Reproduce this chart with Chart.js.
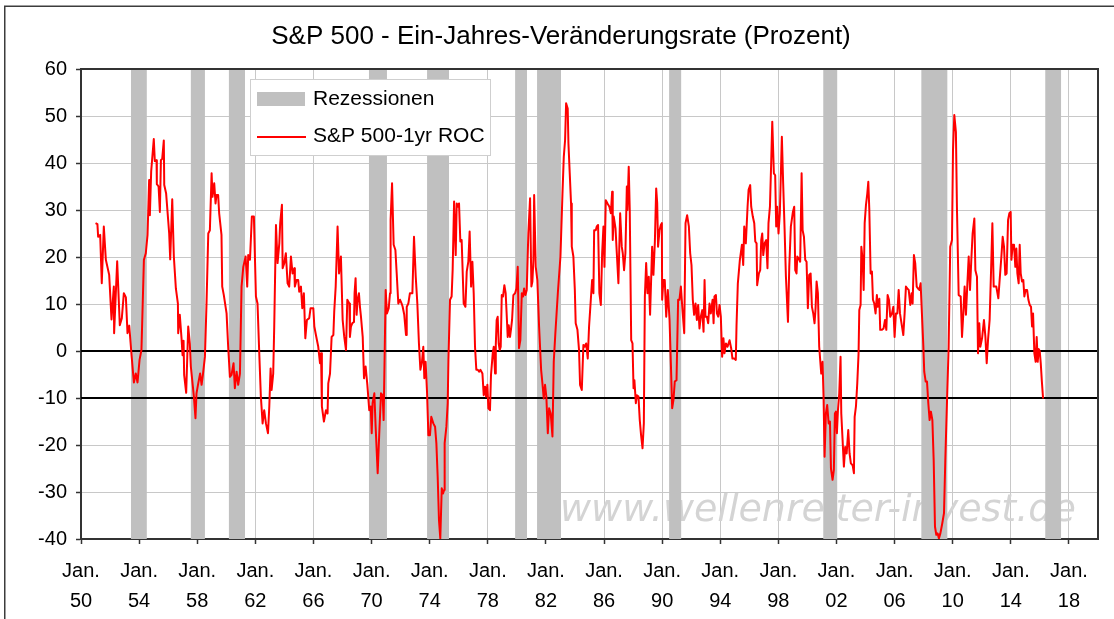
<!DOCTYPE html>
<html><head><meta charset="utf-8">
<script src="https://cdn.jsdelivr.net/npm/chart.js@4.4.1/dist/chart.umd.min.js"></script>
<style>html,body{margin:0;padding:0;background:#fff;}canvas{display:block;}</style>
</head><body>
<canvas id="c" width="1114" height="619"></canvas>
<script>
// ---------- texts ----------
const chartTitle = 'S&P 500 - Ein-Jahres-Veränderungsrate (Prozent)';
const seriesLabel = 'S&P 500-1yr ROC';
const recessionLabel = 'Rezessionen';
const watermarkText = 'www.wellenreiter-invest.de';

// ---------- axes ----------
const xMin = 1950, xMax = 2020;
const yMin = -40, yMax = 60, yStep = 10;
const tickYears = [1950,1954,1958,1962,1966,1970,1974,1978,1982,1986,1990,1994,1998,2002,2006,2010,2014,2018];
const tickLabels = ['50','54','58','62','66','70','74','78','82','86','90','94','98','02','06','10','14','18'];
const referenceLevels = [0, -10];

// ---------- recessions (decimal years) ----------
const recStart = [1953.43,1957.56,1960.18,1969.82,1973.82,1979.88,1981.39,1990.48,2001.09,2007.84,2016.37];
const recEnd   = [1954.53,1958.53,1961.29,1971.06,1975.33,1980.70,1983.04,1991.31,2002.05,2009.63,2017.47];

// ---------- S&P 500 one-year rate of change, % ([decimal year, value]) ----------
const roc1950s = [[1951.00,27.2],[1951.13,27.0],[1951.18,24.3],[1951.32,24.7],[1951.43,14.4],[1951.57,26.5],[1951.71,19.4],[1951.94,16.2],
[1952.10,6.7],[1952.26,13.7],[1952.28,3.8],[1952.49,19.1],[1952.67,5.5],[1952.81,7.0],[1952.95,12.3],
[1953.09,11.4],[1953.20,3.8],[1953.32,5.4],[1953.48,-0.9],[1953.64,-6.7],[1953.77,-4.8],[1953.89,-6.7],
[1954.03,-1.9],[1954.16,0.2],[1954.33,19.4],[1954.46,20.8],[1954.58,24.7],[1954.69,36.4],[1954.74,28.9],[1954.83,38.2],
[1955.01,45.1],[1955.08,40.4],[1955.20,40.6],[1955.22,35.5],[1955.34,35.0],[1955.43,29.6],[1955.50,40.6],[1955.59,40.9],[1955.70,44.8],[1955.73,35.3],[1955.86,33.5],
[1956.07,25.0],[1956.14,19.5],[1956.28,32.3],[1956.39,20.1],[1956.53,13.3],[1956.67,10.1],[1956.69,3.8],[1956.80,7.7],[1956.92,2.7],[1956.99,-0.9],
[1957.06,2.2],[1957.10,-5.1],[1957.24,-8.9],[1957.38,5.2],[1957.49,1.6],[1957.56,-3.3],[1957.77,-9.7],[1957.88,-14.3],[1957.95,-9.0],
[1958.07,-6.9],[1958.20,-4.8],[1958.30,-7.2],[1958.39,-5.1],[1958.53,-1.2],[1958.64,10.1],[1958.76,25.0],[1958.87,25.7],[1958.99,37.8],
[1959.05,32.8],[1959.17,35.7],[1959.26,31.4],[1959.33,33.2],[1959.44,33.2],[1959.51,29.3],[1959.67,24.7],[1959.72,13.7],[1959.83,11.9]];

const roc1960s = [[1960.02,8.0],[1960.13,0.9],[1960.25,-5.5],[1960.36,-5.1],[1960.50,-2.6],[1960.59,-7.9],[1960.71,-4.4],[1960.82,-7.2],[1960.94,-4.8],
[1961.05,13.7],[1961.17,17.9],[1961.33,20.1],[1961.44,13.7],[1961.51,20.4],[1961.63,19.4],[1961.76,28.6],[1961.90,28.6],
[1962.04,11.6],[1962.15,10.1],[1962.27,-0.5],[1962.38,-9.7],[1962.50,-15.4],[1962.61,-12.6],[1962.73,-15.4],[1962.87,-17.5],[1962.96,-11.8],
[1963.05,-3.7],[1963.12,-8.3],[1963.23,-4.8],[1963.30,5.2],[1963.42,26.8],[1963.53,18.7],[1963.65,22.9],[1963.71,27.2],[1963.83,31.1],[1963.88,17.6],[1963.99,18.7],
[1964.10,20.8],[1964.22,14.4],[1964.33,13.7],[1964.45,20.1],[1964.56,16.5],[1964.68,17.6],[1964.72,13.7],[1964.84,15.1],[1964.95,15.1],
[1965.02,12.6],[1965.14,13.7],[1965.23,9.1],[1965.34,12.3],[1965.44,2.7],[1965.55,6.6],[1965.71,7.0],[1965.80,9.1],[1965.99,9.1],
[1966.06,5.2],[1966.17,3.4],[1966.33,0.9],[1966.45,-2.6],[1966.52,-0.5],[1966.58,-11.8],[1966.72,-15.0],[1966.86,-12.6],[1966.97,-13.3],
[1967.02,-6.9],[1967.14,-4.8],[1967.25,3.0],[1967.37,3.4],[1967.43,8.4],[1967.53,13.7],[1967.66,26.5],[1967.76,16.5],[1967.89,20.1],
[1968.01,6.6],[1968.12,3.0],[1968.24,0.2],[1968.33,10.9],[1968.47,10.1],[1968.51,3.0],[1968.58,5.2],[1968.67,5.9],[1968.79,6.2],[1968.83,12.3],[1968.90,15.5],[1968.97,7.7],
[1969.04,10.9],[1969.13,12.3],[1969.20,9.4],[1969.27,7.3],[1969.39,3.0],[1969.48,-5.8],[1969.59,-3.3],[1969.71,-7.2],[1969.84,-12.6],[1969.94,-11.8]];

const roc1970s = [[1970.01,-17.5],[1970.07,-11.1],[1970.19,-9.0],[1970.28,-16.1],[1970.42,-26.0],[1970.53,-17.5],[1970.65,-9.0],[1970.76,-9.4],[1970.83,-14.7],[1970.97,13.0],
[1971.06,8.0],[1971.18,9.1],[1971.27,12.3],[1971.31,27.9],[1971.41,35.7],[1971.52,22.6],[1971.64,21.5],[1971.73,16.5],[1971.84,10.1],[1971.96,10.9],
[1972.07,10.1],[1972.14,9.4],[1972.25,7.7],[1972.37,3.4],[1972.42,9.4],[1972.53,10.1],[1972.64,12.3],[1972.81,12.3],[1972.92,24.3],
[1973.04,15.8],[1973.15,10.1],[1973.26,1.6],[1973.36,-4.0],[1973.47,-2.3],[1973.56,0.9],[1973.63,-5.8],[1973.72,-2.3],[1973.82,-9.0],[1973.91,-17.9],
[1974.02,-17.9],[1974.11,-14.0],[1974.25,-15.4],[1974.37,-16.1],[1974.46,-19.6],[1974.55,-26.7],[1974.64,-36.0],[1974.73,-39.9],[1974.83,-29.2],[1974.92,-30.3],[1974.99,-29.6],
[1975.03,-19.6],[1975.15,-16.1],[1975.24,-11.1],[1975.29,-1.9],[1975.40,10.9],[1975.51,11.6],[1975.58,17.2],[1975.68,31.8],[1975.79,20.4],[1975.86,31.4],[1975.93,30.7],
[1976.02,31.4],[1976.11,23.3],[1976.20,23.6],[1976.34,10.1],[1976.46,9.4],[1976.55,16.9],[1976.66,19.0],[1976.75,25.4],[1976.85,13.7],[1976.94,19.0],
[1977.03,12.3],[1977.12,0.9],[1977.21,-4.0],[1977.31,-4.0],[1977.40,-4.4],[1977.49,-4.0],[1977.63,-4.8],[1977.72,-9.4],[1977.81,-7.6],[1977.88,-9.7],[1977.97,-7.2],
[1978.04,-12.2],[1978.15,-12.6],[1978.22,-5.1],[1978.34,-0.5],[1978.41,0.9],[1978.50,-4.8],[1978.55,1.3],[1978.61,6.6],[1978.68,7.3],[1978.75,1.6],[1978.82,0.2],[1978.89,0.9],[1978.96,11.9],
[1979.05,11.6],[1979.14,14.0],[1979.23,12.3],[1979.30,7.7],[1979.37,3.0],[1979.44,5.5],[1979.53,3.0],[1979.60,4.7],[1979.67,6.6],[1979.76,11.9],[1979.88,12.3],[1979.97,13.3]];

const roc1980s = [[1980.06,17.9],[1980.15,0.6],[1980.24,2.3],[1980.34,12.3],[1980.43,11.6],[1980.50,13.3],[1980.59,11.9],[1980.68,13.0],[1980.79,25.0],[1980.91,32.5],
[1981.00,13.7],[1981.07,14.8],[1981.14,19.4],[1981.19,33.2],[1981.30,17.9],[1981.41,15.1],[1981.53,5.2],[1981.67,-4.0],[1981.76,-6.9],[1981.85,-10.1],[1981.94,-7.2],
[1982.03,-9.7],[1982.13,-17.5],[1982.22,-12.2],[1982.33,-13.3],[1982.45,-18.2],[1982.54,-2.3],[1982.65,3.8],[1982.82,12.3],
[1983.00,20.1],[1983.14,33.5],[1983.23,41.3],[1983.32,44.9],[1983.39,52.7],[1983.50,51.6],[1983.55,44.2],[1983.64,37.8],[1983.73,31.4],[1983.78,22.2],[1983.89,20.1],[1983.99,13.0],
[1984.05,5.9],[1984.17,4.5],[1984.28,0.2],[1984.35,-7.2],[1984.47,-8.3],[1984.58,1.3],[1984.67,0.9],[1984.77,1.6],[1984.88,-1.6],[1984.97,5.2],
[1985.09,10.9],[1985.18,15.1],[1985.27,12.3],[1985.32,25.7],[1985.43,25.7],[1985.50,26.5],[1985.59,26.8],[1985.68,12.3],[1985.78,9.8],[1985.87,20.8],[1985.96,26.5],
[1986.03,17.9],[1986.12,32.1],[1986.24,31.4],[1986.37,30.7],[1986.47,29.3],[1986.56,33.9],[1986.60,23.6],[1986.67,28.6],[1986.79,26.1],[1986.88,20.8],[1986.99,14.4],
[1987.11,29.3],[1987.22,22.2],[1987.29,20.8],[1987.38,17.2],[1987.47,20.8],[1987.57,35.0],[1987.61,30.0],[1987.70,39.2],[1987.77,30.0],[1987.87,2.3],[1987.96,1.6],
[1988.03,-7.9],[1988.09,-6.2],[1988.19,-11.1],[1988.26,-9.4],[1988.37,-9.7],[1988.46,-14.7],[1988.55,-17.9],[1988.65,-20.7],[1988.74,-15.4],[1988.81,11.6],[1988.90,18.7],[1988.99,12.3],
[1989.08,15.8],[1989.17,7.7],[1989.31,22.2],[1989.40,16.2],[1989.50,23.3],[1989.59,34.6],[1989.66,31.4],[1989.72,22.2],[1989.82,25.7],[1989.91,26.8],[1989.98,27.2]];

const roc1990s = [[1990.00,10.9],[1990.09,15.1],[1990.18,15.1],[1990.28,7.3],[1990.39,13.0],[1990.51,6.6],[1990.60,-2.6],[1990.69,-12.2],[1990.78,-10.4],[1990.87,-6.5],[1990.99,-6.2],
[1991.10,10.9],[1991.19,10.9],[1991.29,13.7],[1991.40,8.7],[1991.52,3.8],[1991.61,27.2],[1991.72,28.9],[1991.84,26.5],[1991.93,20.8],
[1992.02,18.3],[1992.11,10.9],[1992.20,7.7],[1992.30,10.1],[1992.39,6.6],[1992.48,9.8],[1992.57,4.8],[1992.66,7.3],[1992.76,8.7],[1992.85,4.1],[1992.92,15.1],[1992.98,7.3],
[1993.08,7.3],[1993.17,5.9],[1993.26,10.1],[1993.35,8.0],[1993.47,10.9],[1993.54,5.9],[1993.60,11.6],[1993.70,11.9],[1993.77,8.0],[1993.86,7.3],[1993.95,9.8],
[1994.04,7.3],[1994.13,-1.2],[1994.22,2.7],[1994.29,-0.5],[1994.39,1.6],[1994.50,0.9],[1994.64,2.3],[1994.75,0.6],[1994.84,-1.6],[1994.96,-1.6],
[1995.07,-1.9],[1995.12,5.5],[1995.21,14.4],[1995.35,19.4],[1995.49,22.6],[1995.58,18.3],[1995.65,26.5],[1995.76,22.9],[1995.88,30.7],[1995.95,34.3],
[1996.06,35.3],[1996.13,30.7],[1996.24,28.6],[1996.34,27.2],[1996.41,23.3],[1996.50,22.9],[1996.54,14.0],[1996.66,16.5],[1996.75,17.2],[1996.82,23.6],[1996.89,25.0],[1996.96,20.4],
[1997.05,22.9],[1997.16,23.6],[1997.25,17.6],[1997.32,27.2],[1997.42,30.7],[1997.51,40.6],[1997.58,48.8],[1997.69,37.8],[1997.78,37.4],[1997.85,26.5],[1997.92,30.7],
[1998.01,25.0],[1998.10,29.3],[1998.24,45.6],[1998.33,35.7],[1998.43,25.7],[1998.52,15.8],[1998.66,6.2],[1998.75,17.9],[1998.86,26.5],
[1999.00,29.6],[1999.09,30.7],[1999.16,17.2],[1999.25,16.5],[1999.30,20.1],[1999.39,19.7],[1999.50,19.0],[1999.60,37.8],[1999.67,25.7],[1999.76,24.3],[1999.85,19.4],[1999.94,19.0]];

const roc2000s = [[2000.03,9.1],[2000.12,16.2],[2000.22,16.5],[2000.31,9.4],[2000.40,8.0],[2000.49,5.9],[2000.56,9.1],[2000.63,14.8],[2000.72,12.3],[2000.81,0.9],[2000.95,-4.8],
[2001.04,-2.3],[2001.11,-9.7],[2001.18,-22.5],[2001.27,-13.3],[2001.36,-11.5],[2001.46,-15.4],[2001.55,-15.0],[2001.62,-25.0],[2001.73,-27.4],[2001.82,-25.3],[2001.89,-13.3],[2001.96,-12.9],
[2002.03,-17.5],[2002.10,-12.6],[2002.19,-9.0],[2002.28,-1.2],[2002.33,-13.3],[2002.42,-18.9],[2002.51,-24.6],[2002.60,-20.4],[2002.70,-21.8],[2002.81,-16.8],[2002.90,-21.8],[2002.99,-23.9],
[2003.11,-24.3],[2003.20,-26.0],[2003.25,-14.0],[2003.34,-11.8],[2003.43,-6.9],[2003.52,-0.5],[2003.57,8.7],[2003.66,9.8],[2003.71,22.2],[2003.80,19.4],[2003.87,13.0],[2003.94,27.2],
[2004.03,31.1],[2004.12,33.5],[2004.19,36.0],[2004.26,30.0],[2004.35,16.5],[2004.44,16.9],[2004.51,10.9],[2004.60,10.1],[2004.69,8.0],[2004.78,11.9],[2004.85,9.4],[2004.95,11.1],
[2005.01,4.5],[2005.13,4.5],[2005.24,4.8],[2005.34,6.6],[2005.43,4.5],[2005.52,11.9],[2005.61,10.9],[2005.70,7.3],[2005.82,8.0],[2005.91,9.4],
[2006.00,3.0],[2006.09,8.0],[2006.19,8.0],[2006.28,13.0],[2006.37,8.0],[2006.51,5.2],[2006.60,3.4],[2006.69,8.0],[2006.78,13.7],[2006.87,13.3],[2006.97,13.0],
[2007.08,9.8],[2007.17,12.3],[2007.24,10.1],[2007.33,20.4],[2007.42,18.7],[2007.52,13.7],[2007.61,13.3],[2007.70,13.0],[2007.79,14.4],[2007.88,8.0],[2007.98,0.9],
[2008.04,-4.4],[2008.14,-6.5],[2008.23,-6.5],[2008.32,-11.1],[2008.41,-14.7],[2008.50,-12.9],[2008.60,-14.7],[2008.69,-23.2],[2008.78,-37.4],[2008.87,-39.1],[2008.96,-38.8],
[2009.05,-39.9],[2009.15,-38.8],[2009.28,-36.7],[2009.40,-34.5],[2009.49,-23.2],[2009.61,-10.4],[2009.72,0.9],[2009.83,22.2],[2009.95,23.6]];

const roc2010s = [[2010.02,42.8],[2010.11,50.2],[2010.22,46.6],[2010.29,30.7],[2010.41,11.9],[2010.55,11.6],[2010.64,3.0],[2010.73,8.0],[2010.82,13.7],[2010.91,7.7],
[2011.01,14.4],[2011.10,20.1],[2011.19,13.0],[2011.28,19.4],[2011.37,25.0],[2011.49,28.2],[2011.56,17.2],[2011.67,15.8],[2011.74,-0.5],[2011.83,5.9],[2011.90,0.9],
[2012.02,2.7],[2012.15,6.6],[2012.25,3.0],[2012.34,-2.6],[2012.43,2.3],[2012.54,6.6],[2012.64,17.2],[2012.73,27.2],[2012.82,13.7],[2012.91,13.7],
[2013.00,13.7],[2013.14,11.2],[2013.23,15.1],[2013.35,20.1],[2013.44,24.3],[2013.53,22.2],[2013.62,16.2],[2013.71,16.5],[2013.81,27.9],[2013.90,29.3],[2013.99,29.6],
[2014.04,19.4],[2014.13,22.6],[2014.22,22.6],[2014.31,17.9],[2014.38,21.8],[2014.45,16.5],[2014.54,14.4],[2014.61,22.6],[2014.68,16.5],[2014.77,14.8],[2014.86,15.1],[2014.93,11.6],
[2015.02,13.0],[2015.12,13.0],[2015.21,10.9],[2015.30,9.8],[2015.39,9.4],[2015.46,5.2],[2015.53,8.0],[2015.62,-0.5],[2015.71,-2.3],[2015.78,3.0],[2015.85,-2.3],[2015.92,0.4],[2015.99,0.0],
[2016.06,-2.6],[2016.13,-6.2],[2016.22,-10.1]];

// ---------- build chart ----------
const FONT = '"Liberation Sans", Arial, sans-serif';
const rocPoints = [].concat(roc1950s, roc1960s, roc1970s, roc1980s, roc1990s, roc2000s, roc2010s)
  .map(p => ({x: p[0], y: p[1]}));
const recPoints = [];
recStart.forEach((s, i) => {
  recPoints.push({x: s, y: yMin}, {x: s, y: yMax}, {x: recEnd[i], y: yMax}, {x: recEnd[i], y: yMin});
});
const refDatasets = referenceLevels.map((lv, i) => ({
  label: 'ref' + lv, data: [{x: xMin, y: lv}, {x: xMax, y: lv}],
  borderColor: '#000', borderWidth: 2, pointRadius: 0, fill: false, order: 1
}));

const decor = {
  id: 'decor',
  beforeDraw(chart) {
    const c = chart.ctx; c.save();
    c.fillStyle = '#fff'; c.fillRect(0, 0, chart.width, chart.height);
    c.strokeStyle = '#3c3c3c'; c.lineWidth = 1.5; c.strokeRect(4.75, 6.25, 1400, 900);
    c.fillStyle = '#000'; c.font = '26px ' + FONT; c.textAlign = 'center'; c.textBaseline = 'alphabetic';
    c.fillText(chartTitle, 561, 44);
    c.restore();
  },
  beforeDatasetsDraw(chart) {
    const c = chart.ctx, a = chart.chartArea; c.save();
    c.beginPath(); c.rect(a.left, a.top, a.right - a.left, a.bottom - a.top); c.clip();
    c.fillStyle = '#d4d4d4'; c.font = 'italic 38px "DejaVu Sans"'; c.textAlign = 'left'; c.textBaseline = 'alphabetic';
    c.fillText(watermarkText, 560, 521);
    c.restore();
  },
  afterDatasetsDraw(chart) {
    const c = chart.ctx, a = chart.chartArea; c.save();
    // plot frame top/right
    c.strokeStyle = '#333'; c.lineWidth = 2;
    c.beginPath(); c.moveTo(a.left, a.top); c.lineTo(a.right, a.top); c.lineTo(a.right, a.bottom); c.stroke();
    // legend
    c.fillStyle = '#fff'; c.fillRect(250, 79, 241, 77);
    c.strokeStyle = '#cfcfcf'; c.lineWidth = 1; c.strokeRect(250.5, 79.5, 240, 76);
    c.fillStyle = '#c0c0c0'; c.fillRect(257, 92, 48, 14);
    c.strokeStyle = '#ff0000'; c.lineWidth = 2;
    c.beginPath(); c.moveTo(257, 137); c.lineTo(306, 137); c.stroke();
    c.fillStyle = '#000'; c.font = '21px ' + FONT; c.textAlign = 'left'; c.textBaseline = 'alphabetic';
    c.fillText(recessionLabel, 313, 105);
    c.fillText(seriesLabel, 313, 142);
    c.restore();
  }
};

new Chart(document.getElementById('c'), {
  type: 'line',
  data: {
    datasets: [
      {label: seriesLabel, data: rocPoints, borderColor: '#ff0000', borderWidth: 2, pointRadius: 0,
       tension: 0, fill: false, borderJoinStyle: 'round', order: 0},
      ...refDatasets,
      {label: recessionLabel, data: recPoints, borderWidth: 0, borderColor: 'rgba(0,0,0,0)', backgroundColor: '#c0c0c0',
       pointRadius: 0, tension: 0, fill: {value: yMin}, order: 5}
    ]
  },
  options: {
    responsive: false, animation: false, events: [],
    layout: {padding: {top: 69, left: 0, right: 16, bottom: 0}},
    plugins: {legend: {display: false}, title: {display: false}, tooltip: {enabled: false}},
    scales: {
      x: {
        type: 'linear', min: xMin, max: xMax,
        afterBuildTicks: s => { s.ticks = tickYears.map(v => ({value: v})); },
        afterFit: s => { s.height = 80; },
        ticks: {autoSkip: false, maxRotation: 0, minRotation: 0, color: '#000', padding: 12,
          font: {size: 20, family: FONT, lineHeight: 1.525},
          callback: (v, i) => ['Jan.', tickLabels[i]]},
        grid: {color: '#c8c8c8', lineWidth: 1, tickColor: '#333', tickWidth: 1.5, tickLength: 5, drawTicks: true},
        border: {display: true, color: '#333', width: 2}
      },
      y: {
        min: yMin, max: yMax,
        afterFit: s => { s.width = 81; },
        ticks: {stepSize: yStep, color: '#000', padding: 9, font: {size: 20, family: FONT}},
        grid: {color: '#c8c8c8', lineWidth: 1, tickColor: '#333', tickWidth: 1.5, tickLength: 5},
        border: {display: true, color: '#333', width: 2}
      }
    }
  },
  plugins: [decor]
});
</script>
</body></html>
